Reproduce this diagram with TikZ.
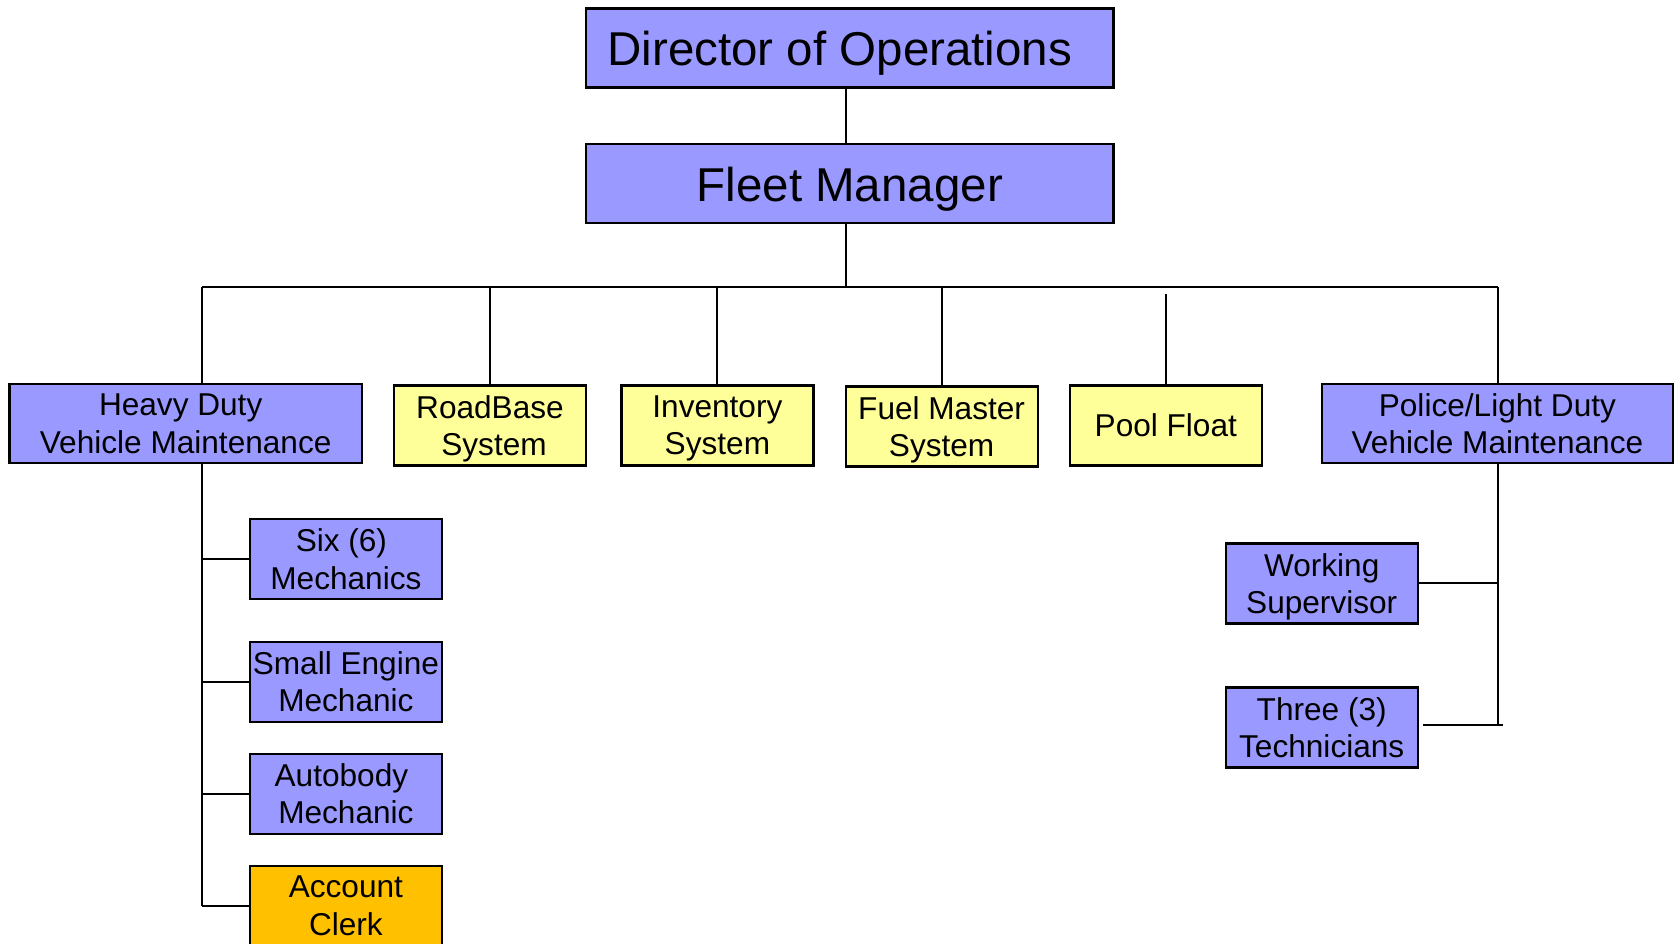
\documentclass[tikz,border=0pt]{standalone}
\usepackage{fontspec}
\setmainfont{Liberation Sans}
\definecolor{boxblue}{HTML}{9999FF}
\definecolor{boxyellow}{HTML}{FFFF99}
\definecolor{boxorange}{HTML}{FFC000}
\begin{document}
\begin{tikzpicture}[x=1pt,y=-1pt,
  box/.style={draw=black, line width=2.2pt, inner sep=0pt, align=center, text depth=-4pt,
    minimum width=192pt, minimum height=80pt, font=\fontsize{31.6}{37.4}\selectfont},
  bigbox/.style={box, minimum width=527.5pt, minimum height=79pt, fill=boxblue,
    text height=36pt, text depth=0pt, font=\fontsize{47.5}{55}\selectfont},
  bluebox/.style={box, fill=boxblue},
  yellowbox/.style={box, fill=boxyellow},
  orangebox/.style={box, fill=boxorange},
  conn/.style={draw=black, line width=2pt}]
\useasboundingbox (0,0) rectangle (1674,944);

\node[bigbox] (dir) at (849.8,48) {Director of Operations\hspace*{20pt}};
\node[bigbox] (fleet) at (849.8,183.6) {Fleet Manager};

\node[bluebox, minimum width=352.3pt, minimum height=79pt] (heavy) at (185.7,423.8) {Heavy Duty\hspace*{10pt}\\Vehicle Maintenance};
\node[yellowbox] (road) at (490,425.4) {RoadBase\\\hspace*{8pt}System};
\node[yellowbox] (inv) at (717.4,425.4) {Inventory\\System};
\node[yellowbox] (fuel) at (941.6,426.5) {Fuel Master\\System};
\node[yellowbox] (pool) at (1165.8,425.4) {Pool Float};
\node[bluebox, minimum width=351.3pt, minimum height=79pt] (police) at (1497.4,423.8) {Police/Light Duty\\Vehicle Maintenance};

\node[bluebox] (six) at (345.9,558.9) {Six (6)\hspace*{9pt}\\Mechanics};
\node[bluebox] (small) at (345.9,681.6) {Small Engine\\Mechanic};
\node[bluebox] (auto) at (345.9,793.7) {Autobody\hspace*{9pt}\\Mechanic};
\node[orangebox] (clerk) at (345.9,905.8) {Account\\Clerk};

\node[bluebox] (work) at (1321.7,583.4) {Working\\Supervisor};
\node[bluebox] (three) at (1321.7,727.5) {Three (3)\\Technicians};

\coordinate (trunk) at (845.5,287.2);
\coordinate (busL) at (201.8,287.2);
\coordinate (busR) at (1497.8,287.2);
\coordinate (poolTop) at (1165.8,293.6);
\coordinate (heavyEnd) at (201.8,905.8);
\coordinate (policeEnd) at (1497.8,723.8);
\coordinate (t1) at (1423.1,724.9);
\coordinate (t2) at (1503.2,724.9);

\draw[conn] (dir.south -| trunk) -- (fleet.north -| trunk);
\draw[conn] (fleet.south -| trunk) -- (trunk);
\draw[conn] (busL) -- (busR);
\draw[conn] (busL) -- (heavy.north -| busL);
\draw[conn] (road.north |- busL) -- (road.north);
\draw[conn] (inv.north |- busL) -- (inv.north);
\draw[conn] (fuel.north |- busL) -- (fuel.north);
\draw[conn] (poolTop) -- (pool.north);
\draw[conn] (busR) -- (police.north -| busR);

\draw[conn] (heavy.south -| busL) -- (heavyEnd);
\draw[conn] (six.west -| busL) -- (six.west);
\draw[conn] (small.west -| busL) -- (small.west);
\draw[conn] (auto.west -| busL) -- (auto.west);
\draw[conn] (heavyEnd) -- (clerk.west);

\draw[conn] (police.south -| busR) -- (policeEnd);
\draw[conn] (work.east) -- (work.east -| busR);
\draw[conn] (t1) -- (t2);
\end{tikzpicture}
\end{document}
